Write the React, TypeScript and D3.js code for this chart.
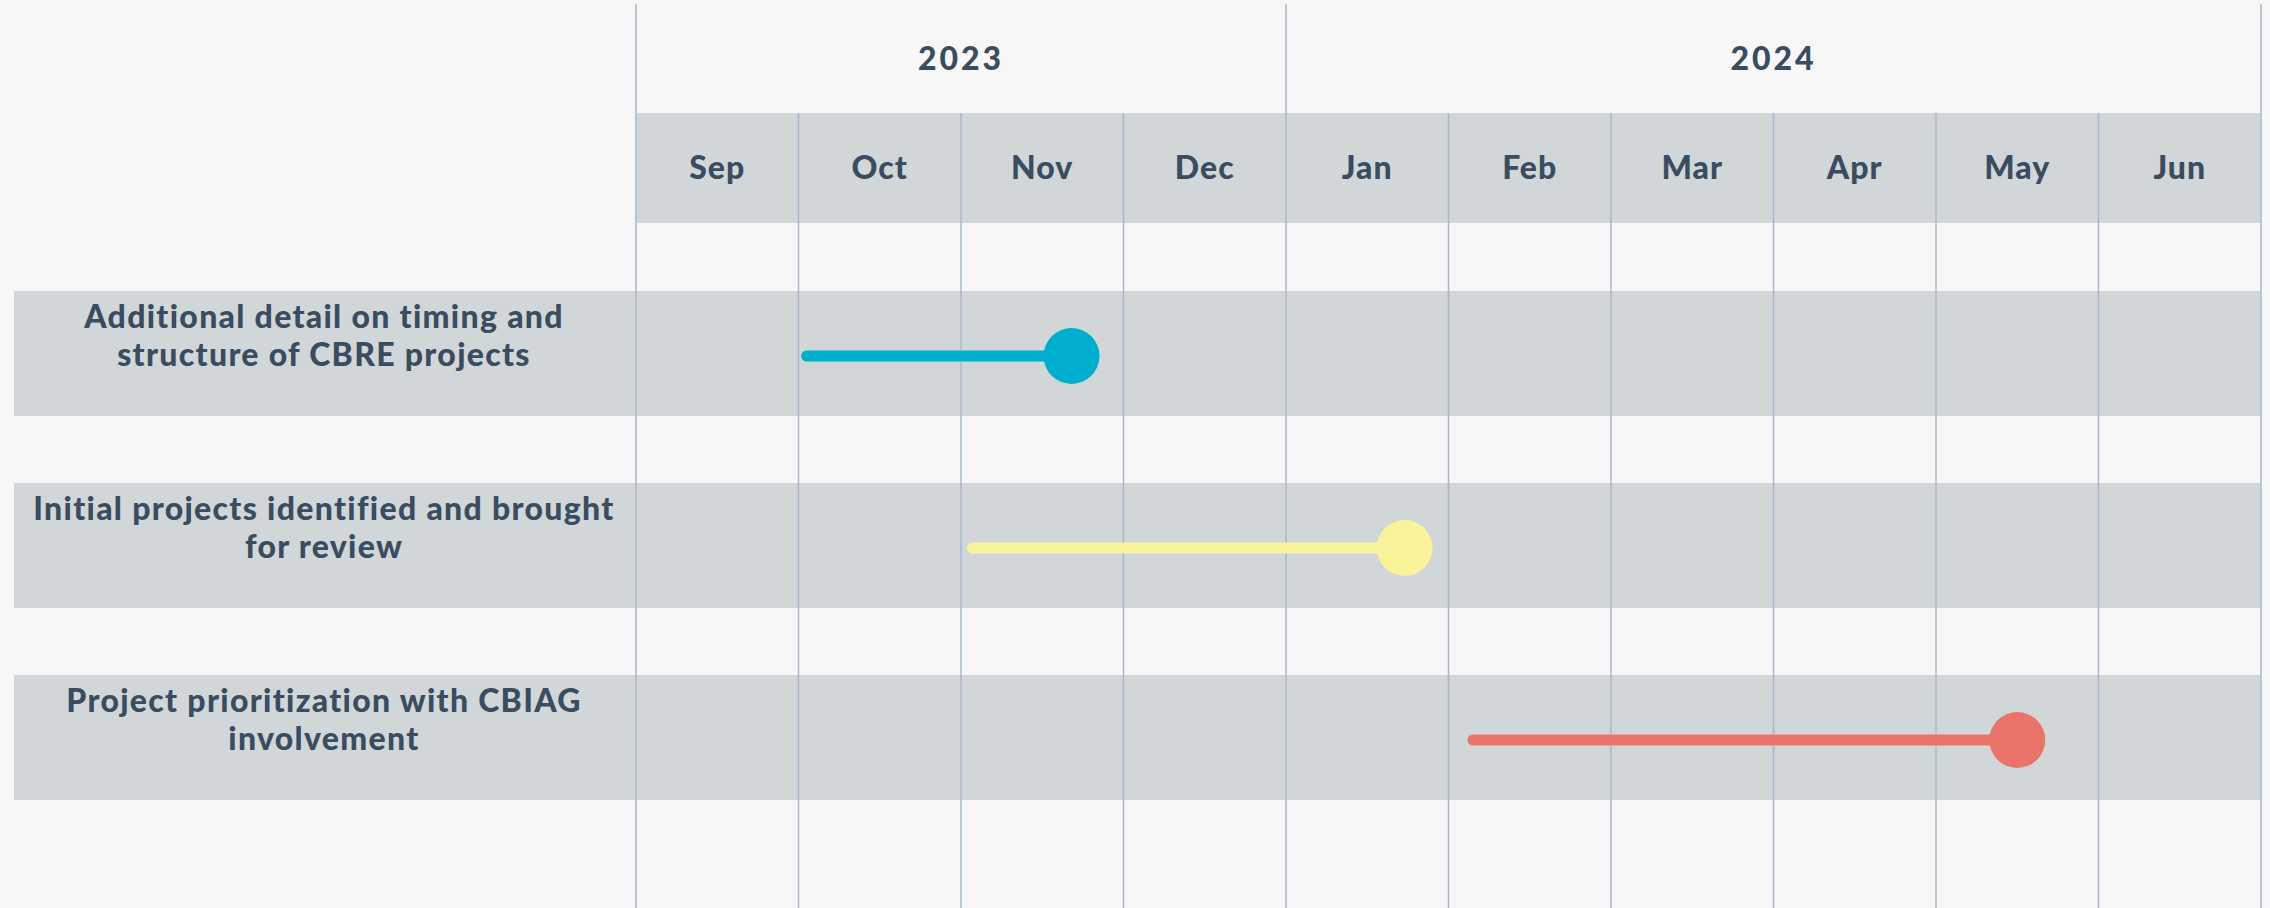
import React from 'react';
import * as d3 from 'd3';

// Timeline data
const YEARS = ['2023', '2024'];
const YEAR_SPANS = [[0, 4], [4, 10]]; // month index ranges per year
const MONTHS = ['Sep', 'Oct', 'Nov', 'Dec', 'Jan', 'Feb', 'Mar', 'Apr', 'May', 'Jun'];

const TASKS = ['task1', 'task2', 'task3'];
const TASK_LABELS = [
  ['Additional detail on timing and', 'structure of CBRE projects'],
  ['Initial projects identified and brought', 'for review'],
  ['Project prioritization with CBIAG', 'involvement'],
];
// positions in months since Sep 1 2023 (fractional)
const TASK_START = [1.05, 2.07, 5.15];
const TASK_END = [2.68, 4.73, 8.5];
const TASK_COLORS = ['#00aecd', '#f9f39c', '#ea7469'];

const W = 2270;
const H = 908;
const BG = '#f7f7f7';
const BAND = '#d1d6d9';
const GRID = '#a8b8ca';
const TEXT = '#3a4c60';
const FONT = 'Lato, "Open Sans", sans-serif';

export default function App() {
  const x = d3.scaleLinear().domain([0, MONTHS.length]).range([636, 2261]);
  const y = d3.scalePoint<string>().domain(TASKS).range([354, 738]);
  const rowH = 125;
  const headTop = 113;
  const headBot = 223;

  const monthBounds = d3.range(MONTHS.length + 1);
  const yearBounds = new Set([0, 4, MONTHS.length]);

  return (
    <div style={{ position: 'absolute', left: 0, top: 0 }}>
      <svg width={W} height={H} style={{ display: 'block' }} fontFamily={FONT}>
        <rect width={W} height={H} fill={BG} />

        {/* month header band */}
        <rect x={x(0)} y={headTop} width={x(MONTHS.length) - x(0)} height={headBot - headTop} fill={BAND} />

        {/* task rows */}
        {TASKS.map(t => (
          <rect key={t} x={14} y={(y(t) as number) - rowH / 2 - 0.5} width={x(MONTHS.length) - 14} height={rowH} fill={BAND} />
        ))}

        {/* grid lines */}
        {monthBounds.map(i => (
          <line key={i} x1={x(i)} x2={x(i)} y1={yearBounds.has(i) ? 4 : headTop} y2={H}
            stroke={GRID} strokeWidth={1.5} />
        ))}

        {/* year labels */}
        {YEARS.map((yr, i) => (
          <text key={yr} x={(x(YEAR_SPANS[i][0]) + x(YEAR_SPANS[i][1])) / 2} y={70}
            textAnchor="middle" fontSize={32} fontWeight={900} fill={TEXT} letterSpacing={3}>{yr}</text>
        ))}

        {/* month labels */}
        {MONTHS.map((m, i) => (
          <text key={m} x={x(i + 0.5)} y={179} textAnchor="middle" fontSize={32} fontWeight={900}
            fill={TEXT} letterSpacing={1}>{m}</text>
        ))}

        {/* task labels */}
        {TASKS.map((t, i) => {
          const top = (y(t) as number) - rowH / 2;
          return (
            <text key={t} x={324} textAnchor="middle" fontSize={32} fontWeight={900} fill={TEXT} letterSpacing={1.3}>
              {TASK_LABELS[i].map((ln, li) => (
                <tspan key={li} x={324} y={top + 36 + li * 38}>{ln}</tspan>
              ))}
            </text>
          );
        })}

        {/* task bars */}
        {TASKS.map((t, i) => {
          const cy = (y(t) as number) + 2;
          return (
            <g key={t}>
              <line x1={x(TASK_START[i])} x2={x(TASK_END[i])} y1={cy} y2={cy}
                stroke={TASK_COLORS[i]} strokeWidth={11} strokeLinecap="round" />
              <circle cx={x(TASK_END[i])} cy={cy} r={28} fill={TASK_COLORS[i]} />
            </g>
          );
        })}
      </svg>
    </div>
  );
}
